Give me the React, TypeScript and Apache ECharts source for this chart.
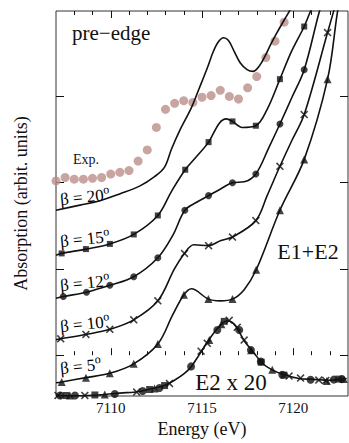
import React, { useEffect, useRef } from "react";
import * as echarts from "echarts";

// ---------- data (energy in eV, absorption in arbitrary units) ----------
const expEnergy = [
  7107, 7107.5, 7108, 7108.5, 7109, 7109.5, 7110, 7110.5, 7111, 7111.5, 7112, 7112.5, 7113,
  7113.5, 7114, 7114.5, 7115, 7115.5, 7116, 7116.5, 7117, 7117.5, 7118, 7118.5, 7119, 7119.5,
];
const expAbs = [
  2.02, 2.06, 2.04, 2.04, 2.05, 2.06, 2.1, 2.12, 2.14, 2.25, 2.38, 2.64, 2.85,
  2.92, 2.95, 2.93, 2.99, 3.01, 3.07, 3.0, 2.97, 3.1, 3.23, 3.45, 3.64, 3.86,
];

const beta20Curve = [
  [7107, 1.68], [7108.31, 1.74], [7109.4, 1.79], [7110.49, 1.87], [7111.58, 1.96], [7112.4, 2.07],
  [7112.95, 2.18], [7113.33, 2.39], [7113.77, 2.6], [7114.42, 2.87], [7114.86, 3.1], [7115.29, 3.33],
  [7115.62, 3.52], [7115.89, 3.63], [7116.17, 3.68], [7116.44, 3.65], [7116.77, 3.52], [7117.09, 3.39],
  [7117.47, 3.31], [7117.8, 3.29], [7118.13, 3.35], [7118.46, 3.47], [7118.78, 3.61], [7119.11, 3.74],
  [7119.49, 3.88], [7119.82, 4.0], [7120.1, 4.12],
];

const beta15Marks = [
  [7107.31, 1.18], [7108.64, 1.23], [7109.95, 1.29], [7111.26, 1.4], [7112.58, 1.62], [7114.08, 2.15],
  [7115.36, 2.47], [7116.67, 2.71], [7117.95, 2.66], [7119.27, 3.2], [7120.6, 3.81],
];
const beta15Extra = [
  [7107, 1.16], [7113.33, 1.9], [7114.69, 2.3], [7115.95, 2.69], [7116.33, 2.74], [7117.2, 2.64],
  [7118.57, 2.85], [7119.88, 3.51], [7120.95, 3.99], [7121.24, 4.12],
];

const beta12Marks = [
  [7107.4, 0.68], [7108.67, 0.73], [7109.95, 0.81], [7111.26, 0.91], [7112.58, 1.13], [7114.06, 1.68],
  [7115.36, 1.85], [7116.67, 2.0], [7117.95, 2.1], [7119.27, 2.68], [7120.6, 3.31],
];
const beta12Extra = [
  [7107, 0.66], [7113.4, 1.39], [7114.68, 1.77], [7116.04, 1.93], [7117.31, 2.01], [7118.67, 2.41],
  [7119.93, 2.99], [7121.44, 3.99], [7121.68, 4.12],
];

const beta10Marks = [
  [7107.26, 0.19], [7108.64, 0.24], [7109.95, 0.3], [7111.26, 0.41], [7112.58, 0.63], [7114.04, 1.18],
  [7115.36, 1.27], [7116.67, 1.37], [7117.95, 1.56], [7119.27, 2.19], [7120.6, 2.79], [7121.88, 3.74],
];
const beta10Extra = [
  [7107, 0.18], [7113.49, 1.0], [7114.55, 1.28], [7116.04, 1.33], [7118.57, 1.85], [7119.95, 2.5],
  [7122.23, 4.0], [7122.4, 4.12],
];

const beta5Marks = [
  [7107.31, -0.31], [7108.64, -0.26], [7109.95, -0.21], [7111.26, -0.1], [7112.58, 0.13], [7114.01, 0.7],
  [7115.35, 0.65], [7116.67, 0.65], [7117.97, 0.99], [7119.27, 1.68], [7120.6, 2.27], [7121.88, 3.2],
];
const beta5Extra = [
  [7107, -0.32], [7113.4, 0.47], [7114.42, 0.77], [7116.0, 0.63], [7117.31, 0.76], [7122.44, 4.0],
  [7122.6, 4.12],
];

const e2Curve = [
  [7107, -0.47], [7108.31, -0.47], [7109.4, -0.46], [7110.49, -0.44], [7111.58, -0.42], [7112.4, -0.38],
  [7112.95, -0.35], [7113.49, -0.29], [7114.04, -0.21], [7114.42, -0.13], [7114.86, 0.01], [7115.29, 0.15],
  [7115.73, 0.28], [7116.11, 0.37], [7116.38, 0.4], [7116.66, 0.38], [7116.93, 0.31], [7117.37, 0.15],
  [7117.8, 0.04], [7118.29, -0.09], [7118.84, -0.17], [7119.55, -0.23], [7120.31, -0.27], [7121.13, -0.28],
  [7121.95, -0.29], [7122.93, -0.27],
];
const e2Circles = [
  [7107.22, -0.467], [7108.04, -0.467], [7110.22, -0.45], [7111.75, -0.415], [7112.67, -0.381],
  [7114.4, -0.13], [7115.84, 0.292], [7117.04, 0.292], [7117.68, 0.061], [7118.22, -0.073],
  [7119.4, -0.227], [7120.95, -0.285], [7122.22, -0.283], [7122.66, -0.277],
];
const e2Squares = [
  [7107.55, -0.467], [7109.13, -0.461], [7112.13, -0.398], [7112.95, -0.352], [7116.22, 0.392],
  [7118.24, -0.081], [7119.49, -0.231], [7122.49, -0.277],
];
const e2Crosses = [
  [7107.11, -0.467], [7108.58, -0.467], [7111.42, -0.427], [7113.22, -0.329], [7114.95, 0.046],
  [7115.29, 0.138], [7116.49, 0.404], [7116.93, 0.323], [7117.31, 0.176], [7119.77, -0.242],
  [7120.4, -0.265], [7121.4, -0.288], [7121.78, -0.294],
];
const e2Triangles = [
  [7107.76, -0.467], [7109.67, -0.456], [7112.4, -0.386], [7115.4, 0.176], [7116.06, 0.358],
  [7117.69, 0.058], [7118.85, -0.17], [7121.84, -0.3], [7122.77, -0.277],
];

const xMinorTicks = [7108, 7109, 7111, 7112, 7113, 7114, 7116, 7117, 7118, 7119, 7121, 7122];
const xMajorTicks = [7110, 7115, 7120];
const yTicks = [0, 1, 2, 3];

const betaLabels = ["20", "15", "12", "10", "5"];

// ---------- styling ----------
const FONT = "Liberation Serif";
const INK = "#111";
const CROSS =
  "path://M0,1.4L1.4,0L5,3.6L8.6,0L10,1.4L6.4,5L10,8.6L8.6,10L5,6.4L1.4,10L0,8.6L3.6,5Z";

const merge = (a: number[][], b: number[][]) => [...a, ...b].sort((p, q) => p[0] - q[0]);

export default function App() {
  const ref = useRef<HTMLDivElement>(null);

  useEffect(() => {
    if (!ref.current) return;
    const chart = echarts.init(ref.current, undefined, { renderer: "svg" });

    const line = (data: number[][]) => ({
      type: "line",
      data,
      showSymbol: false,
      symbol: "none",
      smooth: 0.35,
      lineStyle: { color: INK, width: 1.6 },
      z: 3,
    });
    const marks = (data: number[][], symbol: string, size: number) => ({
      type: "scatter",
      data,
      symbol,
      symbolSize: size,
      itemStyle: { color: INK },
      z: 4,
    });

    const xBase = {
      type: "value",
      min: 7107,
      max: 7123,
      splitLine: { show: false },
      axisLine: { show: false },
    };
    const yBase = {
      type: "value",
      min: -0.473,
      max: 3.99,
      splitLine: { show: false },
      axisLine: { show: false },
      axisLabel: { show: false },
      axisTick: { show: true, inside: true, length: 8, customValues: yTicks, lineStyle: { color: INK, width: 1 } },
    };

    const betaY = [198, 240, 284, 325, 367];
    const betaGraphics = betaLabels.map((b, i) => ({
      type: "group",
      x: 60,
      y: betaY[i],
      rotation: 0.1,
      children: [
        {
          type: "text",
          x: 0,
          y: 0,
          style: {
            text: `{m|β = ${b}}{s|o}`,
            textAlign: "left",
            textVerticalAlign: "middle",
            rich: {
              m: { fontFamily: FONT, fontSize: 17, color: INK, lineHeight: 20, verticalAlign: "bottom" },
              s: { fontFamily: FONT, fontSize: 12, color: INK, lineHeight: 20, verticalAlign: "top" },
            },
          },
        },
      ],
    }));

    chart.setOption({
      animation: false,
      backgroundColor: "#fff",
      textStyle: { fontFamily: FONT },
      grid: { left: 56, top: 11, right: 1, bottom: 45, show: true, borderColor: "#333", borderWidth: 1 },
      xAxis: [
        {
          ...xBase,
          position: "bottom",
          axisTick: { show: true, inside: true, length: 4, customValues: xMinorTicks, lineStyle: { color: INK } },
          axisLabel: {
            customValues: xMajorTicks,
            formatter: (v: number) => String(v),
            fontFamily: FONT,
            fontSize: 15,
            color: INK,
            margin: 4,
          },
          name: "Energy (eV)",
          nameLocation: "middle",
          nameGap: 24,
          nameTextStyle: { fontFamily: FONT, fontSize: 18, color: INK },
        },
        {
          ...xBase,
          position: "bottom",
          axisTick: { show: true, inside: true, length: 7, customValues: xMajorTicks, lineStyle: { color: INK } },
          axisLabel: { show: false },
        },
        {
          ...xBase,
          position: "top",
          axisTick: { show: true, inside: true, length: 4, customValues: xMinorTicks, lineStyle: { color: INK } },
          axisLabel: { show: false },
        },
        {
          ...xBase,
          position: "top",
          axisTick: { show: true, inside: true, length: 7, customValues: xMajorTicks, lineStyle: { color: INK } },
          axisLabel: { show: false },
        },
      ],
      yAxis: [
        {
          ...yBase,
          position: "left",
          name: "Absorption (arbit. units)",
          nameLocation: "middle",
          nameGap: 26,
          nameTextStyle: { fontFamily: FONT, fontSize: 18, color: INK },
        },
        { ...yBase, position: "right" },
      ],
      series: [
        {
          type: "scatter",
          data: expEnergy.map((e, i) => [e, expAbs[i]]),
          symbol: "circle",
          symbolSize: 9,
          itemStyle: { color: "#bb8e89" },
          z: 2,
        },
        line(beta20Curve),
        line(merge(beta15Marks, beta15Extra)),
        marks(beta15Marks, "rect", 6),
        line(merge(beta12Marks, beta12Extra)),
        marks(beta12Marks, "circle", 7),
        line(merge(beta10Marks, beta10Extra)),
        marks(beta10Marks, CROSS, 8),
        line(merge(beta5Marks, beta5Extra)),
        marks(beta5Marks, "triangle", 8),
        line(e2Curve),
        marks(e2Circles, "circle", 8),
        marks(e2Squares, "rect", 7),
        marks(e2Crosses, CROSS, 8),
        marks(e2Triangles, "triangle", 8),
      ],
      graphic: [
        {
          type: "text",
          x: 72,
          y: 33,
          style: { text: "pre\u2212edge", fontFamily: FONT, fontSize: 21, fill: INK, textAlign: "left", textVerticalAlign: "middle" },
        },
        {
          type: "text",
          x: 73,
          y: 159,
          style: { text: "Exp.", fontFamily: FONT, fontSize: 14, fill: INK, textAlign: "left", textVerticalAlign: "middle" },
        },
        {
          type: "text",
          x: 308,
          y: 251,
          style: { text: "E1+E2", fontFamily: FONT, fontSize: 22, fill: INK, textAlign: "center", textVerticalAlign: "middle" },
        },
        {
          type: "text",
          x: 231,
          y: 382,
          style: { text: "E2 x 20", fontFamily: FONT, fontSize: 23, fill: INK, textAlign: "center", textVerticalAlign: "middle" },
        },
        ...betaGraphics,
      ],
    });

    return () => chart.dispose();
  }, []);

  return (
    <div
      ref={ref}
      style={{ position: "fixed", left: 0, top: 0, width: 349, height: 443, background: "#fff" }}
    />
  );
}
